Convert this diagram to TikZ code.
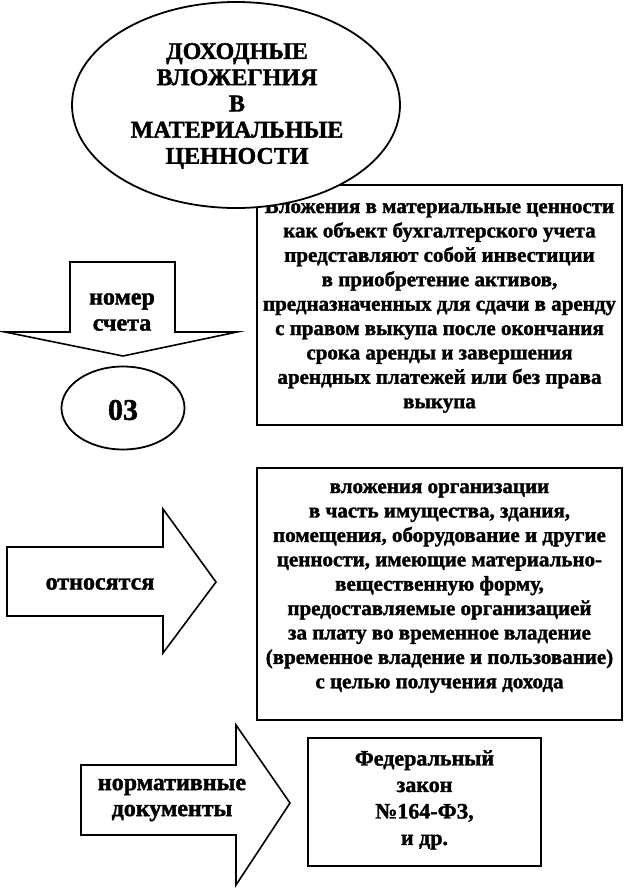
\documentclass[tikz,border=0pt]{standalone}
\usepackage{fontspec}
\setmainfont{Liberation Serif}[BoldFeatures={FakeBold=1.5}]
\usetikzlibrary{shapes.geometric}
\tikzset{
  boxstyle/.style={draw=black, line width=2.2pt, fill=white, rectangle, align=center, inner sep=0pt},
  blockarrow/.style={draw=black, line width=1.6pt, fill=white, line join=miter},
  txt/.style={align=center, inner sep=0pt, font=\bfseries\fontsize{21}{24.4}\selectfont},
  arrtxt/.style={align=center, inner sep=0pt, font=\bfseries\fontsize{24}{26}\selectfont},
  ovalstyle/.style={draw=black, line width=1.8pt, fill=white, ellipse, inner sep=0pt}
}
\begin{document}
\begin{tikzpicture}[x=1pt,y=-1pt]
\useasboundingbox[fill=white] (0,0) rectangle (628,891);
% box 1
\node[boxstyle, minimum width=365pt, minimum height=240pt] (box1) at (439.5,305) {};
\node[txt] (t1) at (439.5,306) {Вложения в материальные ценности\\как объект бухгалтерского учета\\представляют собой инвестиции\\в приобретение активов,\\предназначенных для сдачи в аренду\\с правом выкупа после окончания\\срока аренды и завершения\\арендных платежей или без права\\выкупа};
% title ellipse
\node[ovalstyle, minimum width=328pt, minimum height=206pt] (title) at (236,105) {};
\node[txt, font=\bfseries\fontsize{24}{26.2}\selectfont] (tt) at (237,106) {ДОХОДНЫЕ\\ВЛОЖЕГНИЯ\\В\\МАТЕРИАЛЬНЫЕ\\ЦЕННОСТИ};
% down arrow
\draw[blockarrow] (70,262) -- (175,262) -- (175,332) -- (237,332) -- (123,356) -- (5,332) -- (70,332) -- cycle;
\node[arrtxt] (num) at (122,312) {номер\\счета};
% 03
\node[ovalstyle, minimum width=123pt, minimum height=83pt] (acc) at (123,408) {};
\node[txt, font=\bfseries\fontsize{30}{32}\selectfont] (acct) at (123,410) {03};
% arrow 1
\draw[blockarrow] (7,547) -- (163,547) -- (163,509) -- (216,582) -- (163,653) -- (163,616) -- (7,616) -- cycle;
\node[arrtxt] (rel) at (100,584) {относятся};
% box 2
\node[boxstyle, minimum width=365pt, minimum height=252pt] (box2) at (439.5,594) {};
\node[txt] (t2) at (439.5,588) {вложения организации\\в часть имущества, здания,\\помещения, оборудование и другие\\ценности, имеющие материально-\\вещественную форму,\\предоставляемые организацией\\за плату во временное владение\\(временное владение и пользование)\\с целью получения дохода};
% arrow 2
\draw[blockarrow] (81,765) -- (236,765) -- (236,725) -- (290,803) -- (236,885) -- (236,835) -- (81,835) -- cycle;
\node[arrtxt] (norm) at (172,800) {нормативные\\документы};
% box 3
\node[boxstyle, minimum width=233pt, minimum height=128pt] (box3) at (424.5,802) {};
\node[txt, font=\bfseries\fontsize{22}{26.5}\selectfont] (t3) at (424.5,800) {Федеральный\\закон\\№164-ФЗ,\\и др.};
\end{tikzpicture}
\end{document}
